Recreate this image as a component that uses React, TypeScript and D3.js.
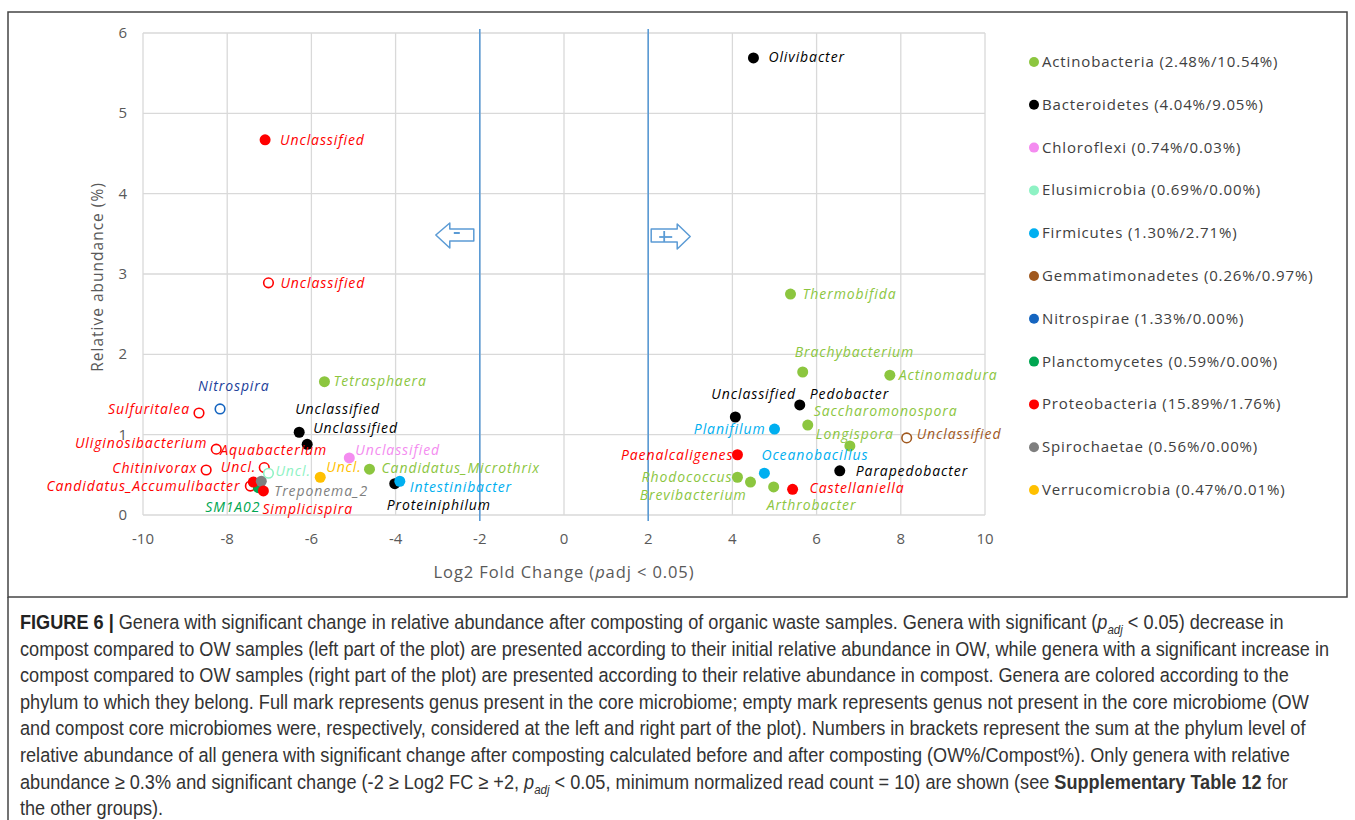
import React from "react";
import * as d3 from "d3";

// ---------- data ----------
const phyla = [
  "Actinobacteria", "Bacteroidetes", "Chloroflexi", "Elusimicrobia", "Firmicutes",
  "Gemmatimonadetes", "Nitrospirae", "Planctomycetes", "Proteobacteria", "Spirochaetae", "Verrucomicrobia",
];
const phylumShares = [
  "2.48%/10.54%", "4.04%/9.05%", "0.74%/0.03%", "0.69%/0.00%", "1.30%/2.71%",
  "0.26%/0.97%", "1.33%/0.00%", "0.59%/0.00%", "15.89%/1.76%", "0.56%/0.00%", "0.47%/0.01%",
];
const phylumColors = [
  "#8cc63f", "#000000", "#f48cf0", "#8ef2c4", "#00aff0",
  "#a0581e", "#1565c0", "#00a651", "#ff0000", "#7f7f7f", "#ffc000",
];

const genera = [
  "Unclassified", "Unclassified", "Nitrospira", "Sulfuritalea", "Uliginosibacterium", "Chitinivorax",
  "Candidatus_Accumulibacter", "Uncl.", "SM1A02", "Aquabacterium", "Treponema_2", "Simplicispira",
  "Uncl.", "Unclassified", "Unclassified", "Tetrasphaera", "Unclassified", "Uncl.",
  "Candidatus_Microthrix", "Proteiniphilum", "Intestinibacter",
  "Olivibacter", "Thermobifida", "Brachybacterium", "Actinomadura", "Pedobacter", "Unclassified",
  "Saccharomonospora", "Planifilum", "Longispora", "Unclassified", "Paenalcaligenes", "Oceanobacillus",
  "Parapedobacter", "Rhodococcus", "Brevibacterium", "Arthrobacter", "Castellaniella",
];
const generaPhylum = [
  "Proteobacteria", "Proteobacteria", "Nitrospirae", "Proteobacteria", "Proteobacteria", "Proteobacteria",
  "Proteobacteria", "Proteobacteria", "Planctomycetes", "Proteobacteria", "Spirochaetae", "Proteobacteria",
  "Elusimicrobia", "Bacteroidetes", "Bacteroidetes", "Actinobacteria", "Chloroflexi", "Verrucomicrobia",
  "Actinobacteria", "Bacteroidetes", "Firmicutes",
  "Bacteroidetes", "Actinobacteria", "Actinobacteria", "Actinobacteria", "Bacteroidetes", "Bacteroidetes",
  "Actinobacteria", "Firmicutes", "Actinobacteria", "Gemmatimonadetes", "Proteobacteria", "Firmicutes",
  "Bacteroidetes", "Actinobacteria", "Actinobacteria", "Actinobacteria", "Proteobacteria",
];
const log2FC = [
  -7.10, -7.02, -8.17, -8.67, -8.26, -8.50,
  -7.45, -7.12, -7.26, -7.38, -7.19, -7.14,
  -7.02, -6.29, -6.10, -5.69, -5.10, -5.79,
  -4.62, -4.02, -3.90,
  4.50, 5.38, 5.67, 7.74, 5.60, 4.07,
  5.79, 5.00, 6.79, 8.14, 4.12, 4.76,
  6.55, 4.12, 4.43, 4.98, 5.43,
];
const relAbundance = [
  4.67, 2.89, 1.32, 1.27, 0.82, 0.56,
  0.36, 0.59, 0.34, 0.41, 0.42, 0.30,
  0.52, 1.03, 0.88, 1.66, 0.71, 0.47,
  0.57, 0.39, 0.42,
  5.69, 2.75, 1.78, 1.74, 1.37, 1.22,
  1.12, 1.07, 0.86, 0.96, 0.75, 0.52,
  0.55, 0.47, 0.41, 0.35, 0.32,
];
const inCore = [
  true, false, false, false, false, false,
  false, false, true, true, true, true,
  false, true, true, true, true, true,
  true, true, true,
  true, true, true, true, true, true,
  true, true, true, false, true, true,
  true, true, true, true, true,
];

const xTicks = [-10, -8, -6, -4, -2, 0, 2, 4, 6, 8, 10];
const yTicks = [0, 1, 2, 3, 4, 5, 6];

// label placement (pixel offsets from the marker, text anchor)
const labelPlacement: [number, number, string][] = [
  [15, 0, "start"], [12, 0, "start"], [-22, -23, "start"], [-9, -4, "end"], [-9, -6, "end"], [-9, -2, "end"],
  [-10, 0, "end"], [-8, -1, "end"], [2, 19, "end"], [-33, -32, "start"], [13, 10, "start"], [-1, 18, "start"],
  [7, -2, "start"], [-4, -23, "start"], [6, -16, "start"], [9, -1, "start"], [6, -8, "start"], [6, -10, "start"],
  [12, -1, "start"], [-8, 21, "start"], [10, 6, "start"],
  [15, -1, "start"], [12, 0, "start"], [-8, -20, "start"], [9, 0, "start"], [10, -11, "start"], [-24, -23, "start"],
  [6, -14, "start"], [-9, 0, "end"], [-34, -12, "start"], [10, -4, "start"], [-4, 0, "end"], [-3, -18, "start"],
  [16, 0, "start"], [-5, 0, "end"], [-4, 13, "end"], [-7, 18, "start"], [17, -1, "start"],
];

const W = 1355;
const H = 820;
const plot = { left: 143, right: 985, top: 33, bottom: 515 };

const LABEL_FONT = "'Open Sans', 'DejaVu Sans', sans-serif";
const CAPTION_FONT = "'Liberation Sans', Arial, sans-serif";

export default function App() {
  const x = d3.scaleLinear().domain([-10, 10]).range([plot.left, plot.right]);
  const y = d3.scaleLinear().domain([0, 6]).range([plot.bottom, plot.top]);
  const colorOf = (p: string) => phylumColors[phyla.indexOf(p)];
  const arrowColor = "#5b9bd5";
  const xl = x(-2);
  const xr = x(2);

  const sub = (
    <>
      <tspan fontStyle="italic">p</tspan>
      <tspan fontSize="13" dy="5" fontStyle="italic">adj</tspan>
    </>
  );

  const captionLines: React.ReactNode[] = [
    <>
      <tspan fontWeight="bold" fill="#222">FIGURE 6 | </tspan>
      <tspan>Genera with significant change in relative abundance after composting of organic waste samples. Genera with significant (</tspan>
      {sub}
      <tspan dy="-5">{"  <"} 0.05) decrease in</tspan>
    </>,
    <>compost compared to OW samples (left part of the plot) are presented according to their initial relative abundance in OW, while genera with a significant increase in</>,
    <>compost compared to OW samples (right part of the plot) are presented according to their relative abundance in compost. Genera are colored according to the</>,
    <>phylum to which they belong. Full mark represents genus present in the core microbiome; empty mark represents genus not present in the core microbiome (OW</>,
    <>and compost core microbiomes were, respectively, considered at the left and right part of the plot). Numbers in brackets represent the sum at the phylum level of</>,
    <>relative abundance of all genera with significant change after composting calculated before and after composting (OW%/Compost%). Only genera with relative</>,
    <>
      <tspan>abundance ≥ 0.3% and significant change (-2 ≥ Log2 FC ≥ +2, </tspan>
      {sub}
      <tspan dy="-5">{"  <"} 0.05, minimum normalized read count = 10) are shown (see </tspan>
      <tspan fontWeight="bold">Supplementary Table 12</tspan>
      <tspan> for</tspan>
    </>,
    <>the other groups).</>,
  ];

  return (
    <svg width={W} height={H} style={{ position: "absolute", left: 0, top: 0, background: "#fff" }}>
      <rect x={0} y={0} width={W} height={H} fill="#fff" />
      {/* frame */}
      <rect x={8} y={12} width={1339} height={585} fill="none" stroke="#444" strokeWidth={1.5} />
      <line x1={8} x2={8} y1={597} y2={H} stroke="#444" strokeWidth={1.5} />

      {/* grid */}
      {xTicks.map((t) => (
        <line key={"gx" + t} x1={x(t)} x2={x(t)} y1={plot.top} y2={plot.bottom} stroke="#d9d9d9" strokeWidth={1.3} />
      ))}
      {yTicks.map((t) => (
        <line key={"gy" + t} x1={plot.left} x2={plot.right} y1={y(t)} y2={y(t)} stroke="#d9d9d9" strokeWidth={1.3} />
      ))}

      {/* tick labels */}
      {xTicks.map((t) => (
        <text key={"tx" + t} x={x(t)} y={y(0) + 29} textAnchor="middle" fontFamily={LABEL_FONT} fontSize={15} fill="#595959">
          {t}
        </text>
      ))}
      {yTicks.map((t) => (
        <text key={"ty" + t} x={plot.left - 16} y={y(t) + 5} textAnchor="end" fontFamily={LABEL_FONT} fontSize={15} fill="#595959">
          {t}
        </text>
      ))}

      {/* axis titles */}
      <text transform={`translate(103,${(plot.top + plot.bottom) / 2 + 3}) rotate(-90)`} textAnchor="middle" fontFamily={LABEL_FONT} fontSize={15.5} letterSpacing={1} fill="#595959">
        Relative abundance (%)
      </text>
      <text x={x(0)} y={578} textAnchor="middle" fontFamily={LABEL_FONT} fontSize={16.5} letterSpacing={0.9} fill="#595959">
        Log2  Fold Change (<tspan fontStyle="italic">p</tspan>adj {"<"} 0.05)
      </text>

      {/* threshold lines */}
      <line x1={xl} x2={xl} y1={plot.top - 4} y2={plot.bottom + 6} stroke={arrowColor} strokeWidth={1.6} />
      <line x1={xr} x2={xr} y1={plot.top - 4} y2={plot.bottom + 6} stroke={arrowColor} strokeWidth={1.6} />

      {/* arrows */}
      <g fill="#fff" stroke={arrowColor} strokeWidth={1.5} strokeLinejoin="round">
        <polygon
          points={[
            [xl - 44, 235], [xl - 30, 223], [xl - 30, 229], [xl - 6, 229], [xl - 6, 241], [xl - 30, 241], [xl - 30, 248],
          ].map((p) => p.join(",")).join(" ")}
        />
        <line x1={xl - 26} x2={xl - 20} y1={233} y2={233} strokeWidth={2} />
        <polygon
          points={[
            [xr + 3, 229], [xr + 29, 229], [xr + 29, 224], [xr + 42, 236.5], [xr + 29, 249], [xr + 29, 242], [xr + 3, 242],
          ].map((p) => p.join(",")).join(" ")}
        />
        <line x1={xr + 11} x2={xr + 24} y1={237} y2={237} strokeWidth={1.8} />
        <line x1={xr + 16} x2={xr + 16} y1={231} y2={242} strokeWidth={1.8} />
      </g>

      {/* markers */}
      {genera.map((g, i) => {
        const c = colorOf(generaPhylum[i]);
        return inCore[i] ? (
          <circle key={"m" + i} cx={x(log2FC[i])} cy={y(relAbundance[i])} r={5.5} fill={c} />
        ) : (
          <circle key={"m" + i} cx={x(log2FC[i])} cy={y(relAbundance[i])} r={4.8} fill="#fff" stroke={c} strokeWidth={1.6} />
        );
      })}

      {/* labels */}
      {genera.map((g, i) => {
        const [dx, dy, anchor] = labelPlacement[i];
        const c = generaPhylum[i] === "Nitrospirae" ? "#21409a" : colorOf(generaPhylum[i]);
        return (
          <text
            key={"l" + i}
            x={x(log2FC[i]) + dx}
            y={y(relAbundance[i]) + dy + 5}
            textAnchor={anchor as any}
            fontFamily={LABEL_FONT}
            fontStyle="italic"
            fontSize={14}
            letterSpacing={0.9}
            fill={c}
          >
            {g}
          </text>
        );
      })}

      {/* legend */}
      {phyla.map((p, i) => (
        <g key={"lg" + i} transform={`translate(1034,${62 + i * 42.8})`}>
          <circle cx={0} cy={0} r={5} fill={phylumColors[i]} />
          <text x={8} y={5} fontFamily={LABEL_FONT} fontSize={15} letterSpacing={0.85} fill="#404040">
            {p} ({phylumShares[i]})
          </text>
        </g>
      ))}

      {/* caption */}
      <g transform="translate(20,0) scale(0.885,1)">
        {captionLines.map((ln, i) => (
          <text key={"c" + i} x={0} y={629 + i * 26.6} fontFamily={CAPTION_FONT} fontSize={20.5} fill="#333">
            {ln}
          </text>
        ))}
      </g>
    </svg>
  );
}
